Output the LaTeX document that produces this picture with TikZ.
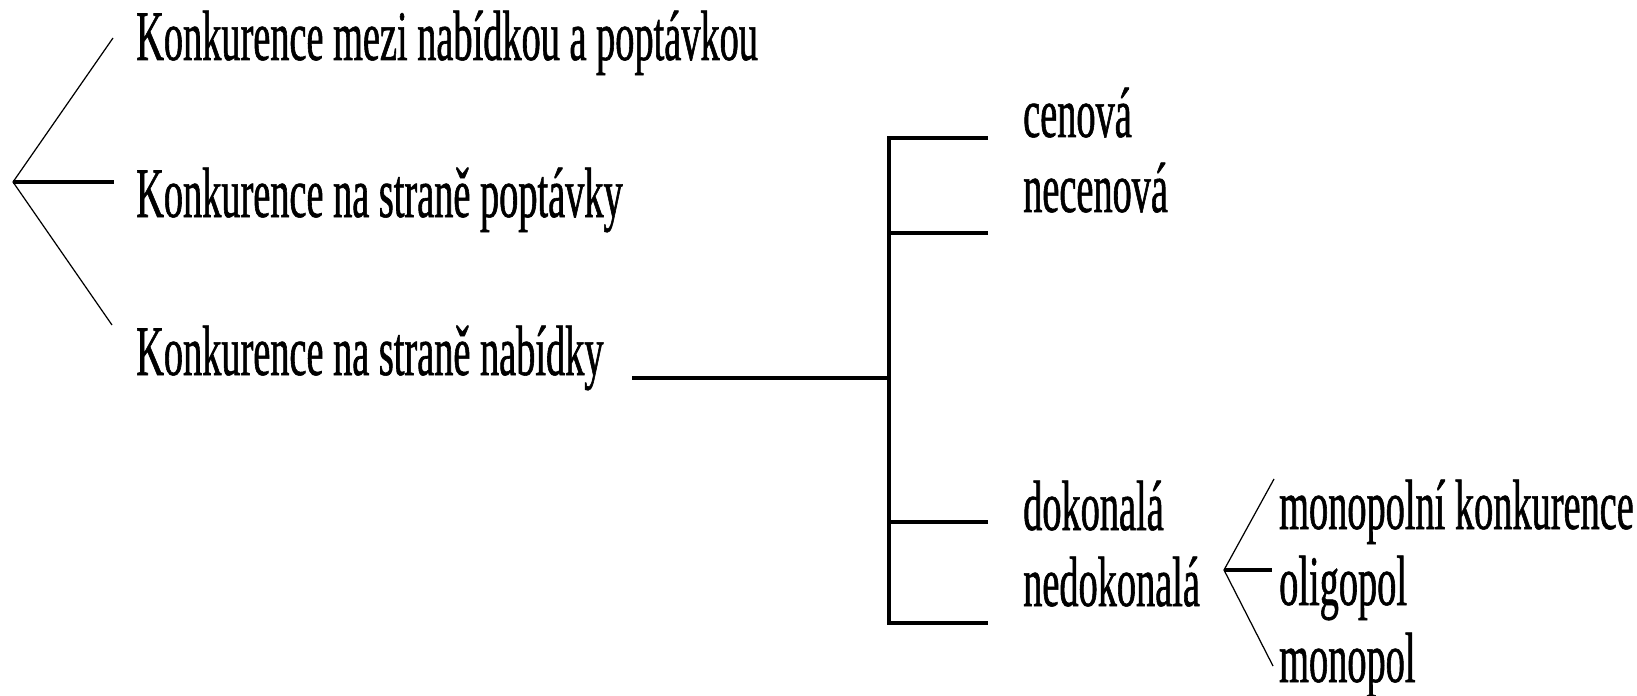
\documentclass[tikz,border=0pt]{standalone}
\usepackage{fontspec}
\setmainfont{Liberation Serif}[FakeStretch=0.54, FakeBold=0.8]

\begin{document}
\begin{tikzpicture}[line width=1.25pt,
        txt/.style={anchor=base west, inner sep=0pt, font=\fontsize{20.2}{24}\selectfont},
        fanline/.style={line width=0.35pt},
        fanmid/.style={line width=0.95pt}]
        \useasboundingbox (0, 0) rectangle (16.37, -6.96);
        % druhy konkurence
        \node (mezi) at (1.34, -0.60)[txt]{Konkurence mezi nabídkou a poptávkou};
        \node (poptavka) at (1.34, -2.17)[txt]{Konkurence na straně poptávky};
        \node (nabidka) at (1.34, -3.75)[txt]{Konkurence na straně nabídky};
        \coordinate (f0) at (0.13, -1.82);
        \coordinate (f1) at (1.13, -0.38);
        \coordinate (f2) at (1.14, -1.82);
        \coordinate (f3) at (1.12, -3.25);
        \draw[fanline] (f1) -- (f0) -- (f3);
        \draw[fanmid] (f0) -- (f2);
        % strana nabidky
        \coordinate (k0) at (6.32, -3.78);
        \coordinate (k1) at (8.89, -3.78);
        \draw (k0) -- (k1);
        \foreach \y [count=\i] in {-1.38, -2.33, -5.22, -6.23}{
            \coordinate (b\i) at (9.88, \y);
        }
        \draw (b1) -- (b1 -| k1) -- (b4 -| k1) -- (b4);
        \draw (b2) -- (b2 -| k1);
        \draw (b3) -- (b3 -| k1);
        \node (cenova) at (10.21, -1.37)[txt]{cenová};
        \node (necenova) at (10.21, -2.12)[txt]{necenová};
        \node (dokonala) at (10.21, -5.30)[txt]{dokonalá};
        \node (nedokonala) at (10.21, -6.06)[txt]{nedokonalá};
        % nedokonala konkurence
        \coordinate (g0) at (12.24, -5.70);
        \coordinate (g1) at (12.74, -4.79);
        \coordinate (g2) at (12.72, -5.70);
        \coordinate (g3) at (12.73, -6.66);
        \draw[fanline] (g1) -- (g0) -- (g3);
        \draw[fanmid] (g0) -- (g2);
        \node (monkon) at (12.77, -5.29)[txt]{monopolní konkurence};
        \node (oligopol) at (12.77, -6.05)[txt]{oligopol};
        \node (monopol) at (12.77, -6.82)[txt]{monopol};
    \end{tikzpicture}
\end{document}
